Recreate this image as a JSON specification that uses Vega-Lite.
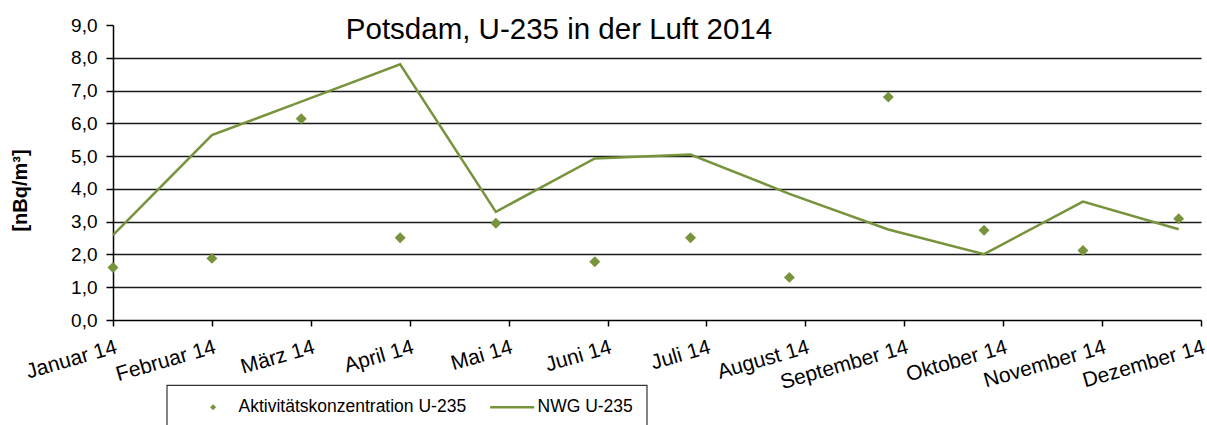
{
  "$schema": "https://vega.github.io/schema/vega-lite/v6.json",
  "autosize": "none",
  "width": 1088,
  "height": 295,
  "padding": {"left": 113, "top": 25, "right": 6, "bottom": 105},
  "background": "white",
  "title": {
    "text": "Potsdam, U-235 in der Luft 2014",
    "font": "Liberation Sans",
    "fontSize": 29.5,
    "fontWeight": "normal",
    "color": "#000",
    "anchor": "middle",
    "frame": "group",
    "baseline": "alphabetic",
    "offset": 0,
    "dx": -98,
    "dy": 52
  },
  "data": {
    "values": [
      {"date": "2014-01-01", "akt": 1.6, "nwg": 2.59},
      {"date": "2014-02-01", "akt": 1.88, "nwg": 5.64},
      {"date": "2014-03-01", "akt": 6.14, "nwg": 6.66},
      {"date": "2014-04-01", "akt": 2.51, "nwg": 7.8},
      {"date": "2014-05-01", "akt": 2.95, "nwg": 3.3},
      {"date": "2014-06-01", "akt": 1.78, "nwg": 4.93},
      {"date": "2014-07-01", "akt": 2.51, "nwg": 5.05},
      {"date": "2014-08-01", "akt": 1.3, "nwg": 3.85},
      {"date": "2014-09-01", "akt": 6.8, "nwg": 2.76},
      {"date": "2014-10-01", "akt": 2.74, "nwg": 2.01},
      {"date": "2014-11-01", "akt": 2.12, "nwg": 3.61},
      {"date": "2014-12-01", "akt": 3.09, "nwg": 2.77}
    ]
  },
  "encoding": {
    "x": {
      "field": "date",
      "type": "temporal",
      "scale": {
        "type": "utc",
        "domain": [
          {"year": 2014, "month": 1, "date": 1, "utc": true},
          {"year": 2014, "month": 12, "date": 8, "utc": true}
        ]
      },
      "axis": {
        "title": null,
        "grid": false,
        "values": [
          {"year": 2014, "month": 1, "date": 1, "utc": true},
          {"year": 2014, "month": 2, "date": 1, "utc": true},
          {"year": 2014, "month": 3, "date": 4, "utc": true},
          {"year": 2014, "month": 4, "date": 4, "utc": true},
          {"year": 2014, "month": 5, "date": 5, "utc": true},
          {"year": 2014, "month": 6, "date": 5, "utc": true},
          {"year": 2014, "month": 7, "date": 6, "utc": true},
          {"year": 2014, "month": 8, "date": 6, "utc": true},
          {"year": 2014, "month": 9, "date": 6, "utc": true},
          {"year": 2014, "month": 10, "date": 7, "utc": true},
          {"year": 2014, "month": 11, "date": 7, "utc": true},
          {"year": 2014, "month": 12, "date": 8, "utc": true}
        ],
        "labelExpr": "['Januar','Februar','März','April','Mai','Juni','Juli','August','September','Oktober','November','Dezember'][utcmonth(datum.value)] + ' 14'",
        "labelAngle": -16,
        "labelAlign": "right",
        "labelBaseline": "top",
        "labelFlush": false,
        "labelOverlap": false,
        "labelBound": false,
        "labelFont": "Liberation Sans",
        "labelFontSize": 21,
        "labelColor": "#000",
        "labelPadding": 10,
        "tickSize": 6,
        "tickColor": "#000",
        "tickWidth": 1.5,
        "domainColor": "#000",
        "domainWidth": 1.5
      }
    }
  },
  "layer": [
    {
      "mark": {"type": "line", "strokeWidth": 2.5, "interpolate": "linear"},
      "encoding": {
        "y": {
          "field": "nwg",
          "type": "quantitative",
          "scale": {"domain": [0, 9], "nice": false, "zero": true},
          "axis": {
            "values": [0, 1, 2, 3, 4, 5, 6, 7, 8, 9],
            "labelExpr": "replace(format(datum.value, '.1f'), '.', ',')",
            "labelOverlap": false,
            "labelBound": false,
            "labelFlush": false,
            "labelFont": "Liberation Sans",
            "labelFontSize": 19,
            "labelColor": "#000",
            "labelPadding": 9,
            "tickSize": 7,
            "tickColor": "#000",
            "tickWidth": 1.5,
            "domainColor": "#000",
            "domainWidth": 1.5,
            "grid": true,
            "gridColor": "#1a1a1a",
            "gridWidth": 1.5,
            "gridOpacity": {"condition": {"test": "datum.value == 0 || datum.value == 9", "value": 0}, "value": 1},
            "title": "[nBq/m³]",
            "titleFont": "Liberation Sans",
            "titleFontSize": 20,
            "titleFontWeight": "bold",
            "titleColor": "#000",
            "titleAngle": -90,
            "titleAlign": "center",
            "titleBaseline": "middle",
            "titleX": -93,
            "titleY": 165
          }
        },
        "color": {
          "datum": "NWG U-235",
          "type": "nominal",
          "scale": {
            "domain": ["Aktivitätskonzentration U-235", "NWG U-235"],
            "range": ["#77933C", "#77933C"]
          },
          "legend": {
            "orient": "none",
            "legendX": 53.7,
            "legendY": 360,
            "direction": "horizontal",
            "title": null,
            "strokeColor": "#333",
            "fillColor": "white",
            "padding": 13,
            "labelFont": "Liberation Sans",
            "labelFontSize": 17.5,
            "labelColor": "#000",
            "labelLimit": 400,
            "symbolSize": 36,
            "symbolOffset": 24.7,
            "labelOffset": 16.6,
            "columnPadding": 12,
            "labelExpr": "datum.label == 'NWG U-235' ? 'NWG U-235\u00a0\u00a0\u00a0\u00a0' : datum.label",
            "encode": {
              "legend": {
                "update": {
                  "strokeWidth": {"value": 1.2}
                }
              },
              "symbols": {
                "update": {
                  "shape": {"signal": "datum.value == 'NWG U-235' ? 'stroke' : 'diamond'"},
                  "size": {"signal": "datum.value == 'NWG U-235' ? 1936 : 36"},
                  "fill": {"signal": "datum.value == 'NWG U-235' ? 'transparent' : '#77933C'"},
                  "stroke": {"value": "#77933C"},
                  "strokeWidth": {"signal": "datum.value == 'NWG U-235' ? 2.5 : 0"},
                  "opacity": {"value": 1}
                }
              }
            }
          }
        }
      }
    },
    {
      "mark": {"type": "point", "shape": "diamond", "filled": true, "size": 120, "opacity": 1},
      "encoding": {
        "y": {
          "field": "akt",
          "type": "quantitative",
          "scale": {"domain": [0, 9], "nice": false, "zero": true},
          "axis": {
            "values": [0, 1, 2, 3, 4, 5, 6, 7, 8, 9],
            "labelExpr": "replace(format(datum.value, '.1f'), '.', ',')",
            "labelOverlap": false,
            "labelBound": false,
            "labelFlush": false,
            "labelFont": "Liberation Sans",
            "labelFontSize": 19,
            "labelColor": "#000",
            "labelPadding": 9,
            "tickSize": 7,
            "tickColor": "#000",
            "tickWidth": 1.5,
            "domainColor": "#000",
            "domainWidth": 1.5,
            "grid": true,
            "gridColor": "#1a1a1a",
            "gridWidth": 1.5,
            "gridOpacity": {"condition": {"test": "datum.value == 0 || datum.value == 9", "value": 0}, "value": 1},
            "title": "[nBq/m³]",
            "titleFont": "Liberation Sans",
            "titleFontSize": 20,
            "titleFontWeight": "bold",
            "titleColor": "#000",
            "titleAngle": -90,
            "titleAlign": "center",
            "titleBaseline": "middle",
            "titleX": -93,
            "titleY": 165
          }
        },
        "color": {"datum": "Aktivitätskonzentration U-235", "type": "nominal"}
      }
    }
  ],
  "config": {
    "view": {"stroke": null}
  }
}
